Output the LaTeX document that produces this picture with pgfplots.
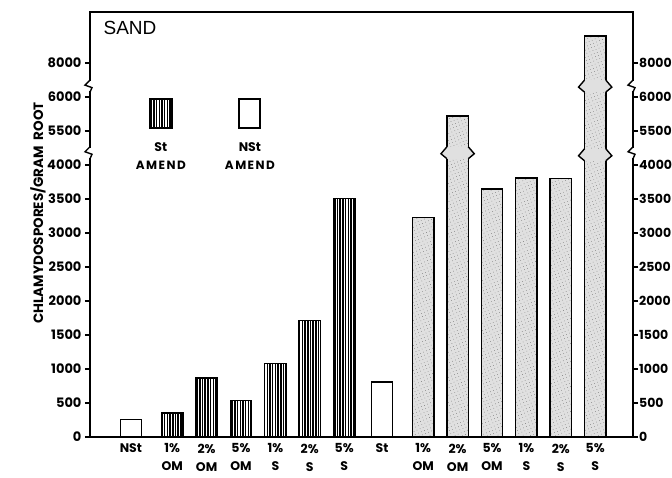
\documentclass[border=0pt]{standalone}
\usepackage{pgfplots}
\pgfplotsset{compat=1.18}
\usetikzlibrary{patterns.meta}
\usepackage{fontspec}
\setmainfont{Poppins}
\newfontfamily\helv{Liberation Sans}
\definecolor{stip}{gray}{0.88}
\tikzset{
  hatchbar/.style={draw=black, line width=1.5pt, pattern={Lines[angle=90,distance=2.7pt,line width=1.5pt]}},
  stipbar/.style={draw=black, line width=1.5pt, fill=stip, postaction={pattern={Dots[angle=23,distance=3.3pt,radius=0.32pt]}, pattern color=black!75}},
  whitebar/.style={draw=black, line width=1.5pt, fill=white},
}
% y axis is broken: plotted value y' = y (y<=4000), y-1000 (5000..6000), y-2500 (above 7000)
\pgfplotstableread{
x y
0 260
7.3 810
}\whitedata
\pgfplotstableread{
x y
1.2 350
2.2 870
3.2 540
4.2 1080
5.2 1710
6.2 3510
}\hatchdata
\pgfplotstableread{
x y
8.5 3230
9.5 4720
10.5 3650
11.5 3810
12.5 3800
13.5 5900
}\stipdata
\begin{document}
\begin{tikzpicture}
\path[use as bounding box] (-90pt,-41pt) rectangle (582pt,437pt);
\begin{axis}[
  at={(0,0)}, anchor=south west,
  scale only axis, width=543pt, height=425pt,
  xmin=-1.19, xmax=14.6, ymin=0, ymax=6250,
  clip=false,
  axis line style={line width=1.4pt},
  xtick={0,1.2,2.2,3.2,4.2,5.2,6.2,7.3,8.5,9.5,10.5,11.5,12.5,13.5},
  xticklabels={NSt,{1\%\\OM},{2\%\\OM},{5\%\\OM},{1\%\\S},{2\%\\S},{5\%\\S},St,{1\%\\OM},{2\%\\OM},{5\%\\OM},{1\%\\S},{2\%\\S},{5\%\\S}},
  xtick style={draw=none},
  xticklabel style={align=center, font=\bfseries\fontsize{12.5}{18}\selectfont, inner sep=1.5pt, yshift=0pt},
  ytick={0,500,1000,1500,2000,2500,3000,3500,4000,4500,5000,5500},
  yticklabels={0,500,1000,1500,2000,2500,3000,3500,4000,5500,6000,8000},
  ytick pos=left, tick align=outside,
  ytick style={line width=1.2pt, black}, major tick length=5pt,
  yticklabel style={font=\bfseries\fontsize{13}{13}\selectfont, xshift=0pt},
  /pgf/number format/assume math mode=true,
]
\addplot[ybar, bar width=0.62, bar shift=0pt, whitebar] table[x=x,y=y] {\whitedata};
\addplot[ybar, bar width=0.62, bar shift=0pt, hatchbar] table[x=x,y=y] {\hatchdata};
\addplot[ybar, bar width=0.62, bar shift=0pt, stipbar] table[x=x,y=y] {\stipdata};
% bar breaks
\fill[stip] ([yshift=6pt]axis cs:9.19,4180) -- ([xshift=-6pt,yshift=-1pt]axis cs:9.19,4180) -- ([yshift=-6pt]axis cs:9.19,4180) -- ([yshift=-6pt]axis cs:9.81,4180) -- ([xshift=6pt,yshift=-1pt]axis cs:9.81,4180) -- ([yshift=6pt]axis cs:9.81,4180) -- cycle;
\draw[line width=1.4pt] ([yshift=6pt]axis cs:9.19,4180) -- ([xshift=-6pt,yshift=-1pt]axis cs:9.19,4180) -- ([yshift=-6pt]axis cs:9.19,4180);
\draw[line width=1.4pt] ([yshift=6pt]axis cs:9.81,4180) -- ([xshift=6pt,yshift=-1pt]axis cs:9.81,4180) -- ([yshift=-6pt]axis cs:9.81,4180);
\fill[stip] ([yshift=6pt]axis cs:13.19,4150) -- ([xshift=-6pt,yshift=-1pt]axis cs:13.19,4150) -- ([yshift=-6pt]axis cs:13.19,4150) -- ([yshift=-6pt]axis cs:13.81,4150) -- ([xshift=6pt,yshift=-1pt]axis cs:13.81,4150) -- ([yshift=6pt]axis cs:13.81,4150) -- cycle;
\draw[line width=1.4pt] ([yshift=6pt]axis cs:13.19,4150) -- ([xshift=-6pt,yshift=-1pt]axis cs:13.19,4150) -- ([yshift=-6pt]axis cs:13.19,4150);
\draw[line width=1.4pt] ([yshift=6pt]axis cs:13.81,4150) -- ([xshift=6pt,yshift=-1pt]axis cs:13.81,4150) -- ([yshift=-6pt]axis cs:13.81,4150);
\fill[stip] ([yshift=6pt]axis cs:13.19,5160) -- ([xshift=-6pt,yshift=-1pt]axis cs:13.19,5160) -- ([yshift=-6pt]axis cs:13.19,5160) -- ([yshift=-6pt]axis cs:13.81,5160) -- ([xshift=6pt,yshift=-1pt]axis cs:13.81,5160) -- ([yshift=6pt]axis cs:13.81,5160) -- cycle;
\draw[line width=1.4pt] ([yshift=6pt]axis cs:13.19,5160) -- ([xshift=-6pt,yshift=-1pt]axis cs:13.19,5160) -- ([yshift=-6pt]axis cs:13.19,5160);
\draw[line width=1.4pt] ([yshift=6pt]axis cs:13.81,5160) -- ([xshift=6pt,yshift=-1pt]axis cs:13.81,5160) -- ([yshift=-6pt]axis cs:13.81,5160);
% left axis breaks
\draw[white, line width=3pt] ([yshift=-5pt]axis cs:-1.19,4180) -- ([yshift=5pt]axis cs:-1.19,4180);
\draw[line width=1.4pt] ([yshift=6pt]axis cs:-1.19,4180) -- ([xshift=-5pt,yshift=1pt]axis cs:-1.19,4180) -- ([xshift=2pt,yshift=-1.5pt]axis cs:-1.19,4180) -- ([yshift=-6pt]axis cs:-1.19,4180);
\draw[white, line width=3pt] ([yshift=-5pt]axis cs:-1.19,5160) -- ([yshift=5pt]axis cs:-1.19,5160);
\draw[line width=1.4pt] ([yshift=6pt]axis cs:-1.19,5160) -- ([xshift=-5pt,yshift=1pt]axis cs:-1.19,5160) -- ([xshift=2pt,yshift=-1.5pt]axis cs:-1.19,5160) -- ([yshift=-6pt]axis cs:-1.19,5160);
% bottom line extends a little left
\draw[line width=1.4pt] (axis cs:-1.19,0) -- ([xshift=-5pt]axis cs:-1.19,0);
% legend
\draw[hatchbar] (axis cs:0.55,4545) rectangle (axis cs:1.19,4970);
\draw[whitebar] (axis cs:3.14,4545) rectangle (axis cs:3.75,4970);
\node[font=\bfseries\fontsize{12.5}{13}\selectfont] at (axis cs:0.87,4265) {St};
\node[font=\bfseries\fontsize{12}{13}\selectfont\addfontfeatures{LetterSpace=12}] at (axis cs:0.87,3990) {AMEND};
\node[font=\bfseries\fontsize{12.5}{13}\selectfont] at (axis cs:3.46,4265) {NSt};
\node[font=\bfseries\fontsize{12}{13}\selectfont\addfontfeatures{LetterSpace=12}] at (axis cs:3.46,3990) {AMEND};
% title
\node[anchor=west, font=\helv\fontsize{19}{20}\selectfont, inner sep=0pt] at (axis cs:-0.8,6010) {SAND};
\end{axis}
\begin{axis}[
  at={(0,0)}, anchor=south west,
  scale only axis, width=543pt, height=425pt,
  xmin=-1.19, xmax=14.6, ymin=0, ymax=6250,
  clip=false,
  axis x line=none, axis y line*=right,
  axis line style={line width=1.4pt, -},
  ytick={0,500,1000,1500,2000,2500,3000,3500,4000,4500,5000,5500},
  yticklabels={0,500,1000,1500,2000,2500,3000,3500,4000,5500,6000,8000},
  tick align=outside,
  ytick style={line width=1.2pt, black}, major tick length=5pt,
  yticklabel style={font=\bfseries\fontsize{12.5}{13}\selectfont, inner sep=1pt},
  /pgf/number format/assume math mode=true,
]
\draw[white, line width=3pt] ([yshift=-5pt]axis cs:14.6,4180) -- ([yshift=5pt]axis cs:14.6,4180);
\draw[line width=1.4pt] ([yshift=6pt]axis cs:14.6,4180) -- ([xshift=-5pt,yshift=1pt]axis cs:14.6,4180) -- ([xshift=2pt,yshift=-1.5pt]axis cs:14.6,4180) -- ([yshift=-6pt]axis cs:14.6,4180);
\draw[white, line width=3pt] ([yshift=-5pt]axis cs:14.6,5160) -- ([yshift=5pt]axis cs:14.6,5160);
\draw[line width=1.4pt] ([yshift=6pt]axis cs:14.6,5160) -- ([xshift=-5pt,yshift=1pt]axis cs:14.6,5160) -- ([xshift=2pt,yshift=-1.5pt]axis cs:14.6,5160) -- ([yshift=-6pt]axis cs:14.6,5160);
\end{axis}
\node[rotate=90, font=\bfseries\fontsize{13.5}{14}\selectfont] at (-52pt,224pt) {CHLAMYDOSPORES/GRAM~~ROOT};
\end{tikzpicture}
\end{document}
